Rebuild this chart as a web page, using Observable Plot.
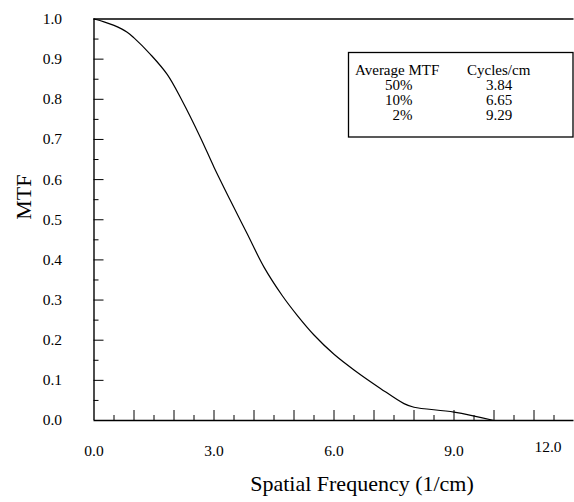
<!DOCTYPE html>
<html>
<head>
<meta charset="utf-8">
<script src="https://cdn.jsdelivr.net/npm/d3@7"></script>
<script src="https://cdn.jsdelivr.net/npm/@observablehq/plot@0.6"></script>
<style>
  html, body { margin: 0; padding: 0; background: #fff; }
  #chart { position: relative; width: 574px; height: 502px; }
</style>
</head>
<body>
<div id="chart"></div>
<script>
// ---- data ----
const freq = [0, 0.25, 0.5, 0.83, 1.0, 1.41, 1.83, 2.2, 2.66, 3.0, 3.41, 3.83, 4.25, 4.7, 5.08, 5.5, 6.0, 6.5, 7.16, 7.75, 8.0, 9.0, 10.0];
const mtf  = [1.0, 0.993, 0.984, 0.967, 0.953, 0.912, 0.862, 0.797, 0.705, 0.631, 0.548, 0.465, 0.382, 0.312, 0.262, 0.213, 0.165, 0.126, 0.08, 0.042, 0.033, 0.021, 0.0];
const xLabelTicks = [0, 3, 6, 9];
const xLastTick = [12];
const xMajor = [1, 2, 3, 4, 5, 6, 7, 8, 9, 10, 11];
const xMinor = [0.5, 1.5, 2.5, 3.5, 4.5, 5.5, 6.5, 7.5, 8.5, 9.5, 10.5, 11.5];
const yMajor = [0.1, 0.2, 0.3, 0.4, 0.5, 0.6, 0.7, 0.8, 0.9];
const yMinor = [0.05, 0.15, 0.25, 0.35, 0.45, 0.55, 0.65, 0.75, 0.85, 0.95];
const yLabelTicks = [0, 0.1, 0.2, 0.3, 0.4, 0.5, 0.6, 0.7, 0.8, 0.9, 1.0];
const legendHeader = ["Average MTF", "Cycles/cm"];
const legendLevels = ["50%", "10%", "2%"];
const legendCycles = ["3.84", "6.65", "9.29"];
const xTitle = "Spatial Frequency (1/cm)";
const yTitle = "MTF";

const data = freq.map((f, i) => ({f, m: mtf[i]}));
const fmt = d3.format(".1f");
const blank = () => "";
const serif = "'Liberation Serif', 'Times New Roman', serif";

const plot = Plot.plot({
  width: 574,
  height: 502,
  marginLeft: 93.5,
  marginRight: 0.5,
  marginTop: 18.5,
  marginBottom: 82,
  style: {fontFamily: serif, fontSize: "15px", background: "#fff", color: "#000"},
  x: {domain: [0, 12]},
  y: {domain: [0, 1]},
  marks: [
    Plot.axisX(xMajor, {tickSize: -10, tickFormat: blank, label: null, stroke: "#000"}),
    Plot.axisX(xMinor, {tickSize: -5, tickFormat: blank, label: null, stroke: "#000"}),
    Plot.axisY(yMajor, {tickSize: -10, tickFormat: blank, label: null, stroke: "#000"}),
    Plot.axisY(yMinor, {tickSize: -5, tickFormat: blank, label: null, stroke: "#000"}),
    Plot.axisX(xLabelTicks, {tickSize: 0, tickPadding: 24, tickFormat: fmt, label: null, fill: "#000", fontSize: 15.5}),
    Plot.text(xLastTick, {x: d => d, frameAnchor: "bottom", text: d => fmt(d), textAnchor: "end", dx: -12.5, dy: 31, fill: "#000", fontSize: 15.5}),
    Plot.axisY(yLabelTicks, {tickSize: 0, tickPadding: 32, tickFormat: fmt, label: null, fill: "#000", fontSize: 15.5}),
    Plot.ruleY([0, 1], {stroke: "#000", strokeWidth: 1.4}),
    Plot.ruleX([0], {stroke: "#000", strokeWidth: 1.4}),
    Plot.line(data, {x: "f", y: "m", curve: "catmull-rom", stroke: "#000", strokeWidth: 1.2}),
    Plot.text([yTitle], {frameAnchor: "left", rotate: -90, dx: -70, fontSize: 22, fill: "#000"}),
    Plot.text([xTitle], {frameAnchor: "bottom", dx: 28, dy: 70, fontSize: 22, fill: "#000"})
  ]
});

document.getElementById("chart").appendChild(plot);

// legend box drawn inside the SVG
const svg = d3.select(plot);
const g = svg.append("g").attr("font-family", serif).attr("font-size", 15).attr("fill", "#000").attr("text-anchor", "start");
g.append("rect").attr("x", 348.5).attr("y", 52.5).attr("width", 224.5).attr("height", 84.5)
  .attr("fill", "#fff").attr("stroke", "#000").attr("stroke-width", 1.3);
g.append("text").attr("x", 355).attr("y", 75).attr("text-anchor", "start").text(legendHeader[0]);
g.append("text").attr("x", 467).attr("y", 75).attr("text-anchor", "start").text(legendHeader[1]);
legendLevels.forEach((t, i) => {
  g.append("text").attr("x", 412.5).attr("y", 90 + i * 15).attr("text-anchor", "end").text(t);
  g.append("text").attr("x", 499).attr("y", 90 + i * 15).attr("text-anchor", "middle").text(legendCycles[i]);
});
</script>
</body>
</html>
